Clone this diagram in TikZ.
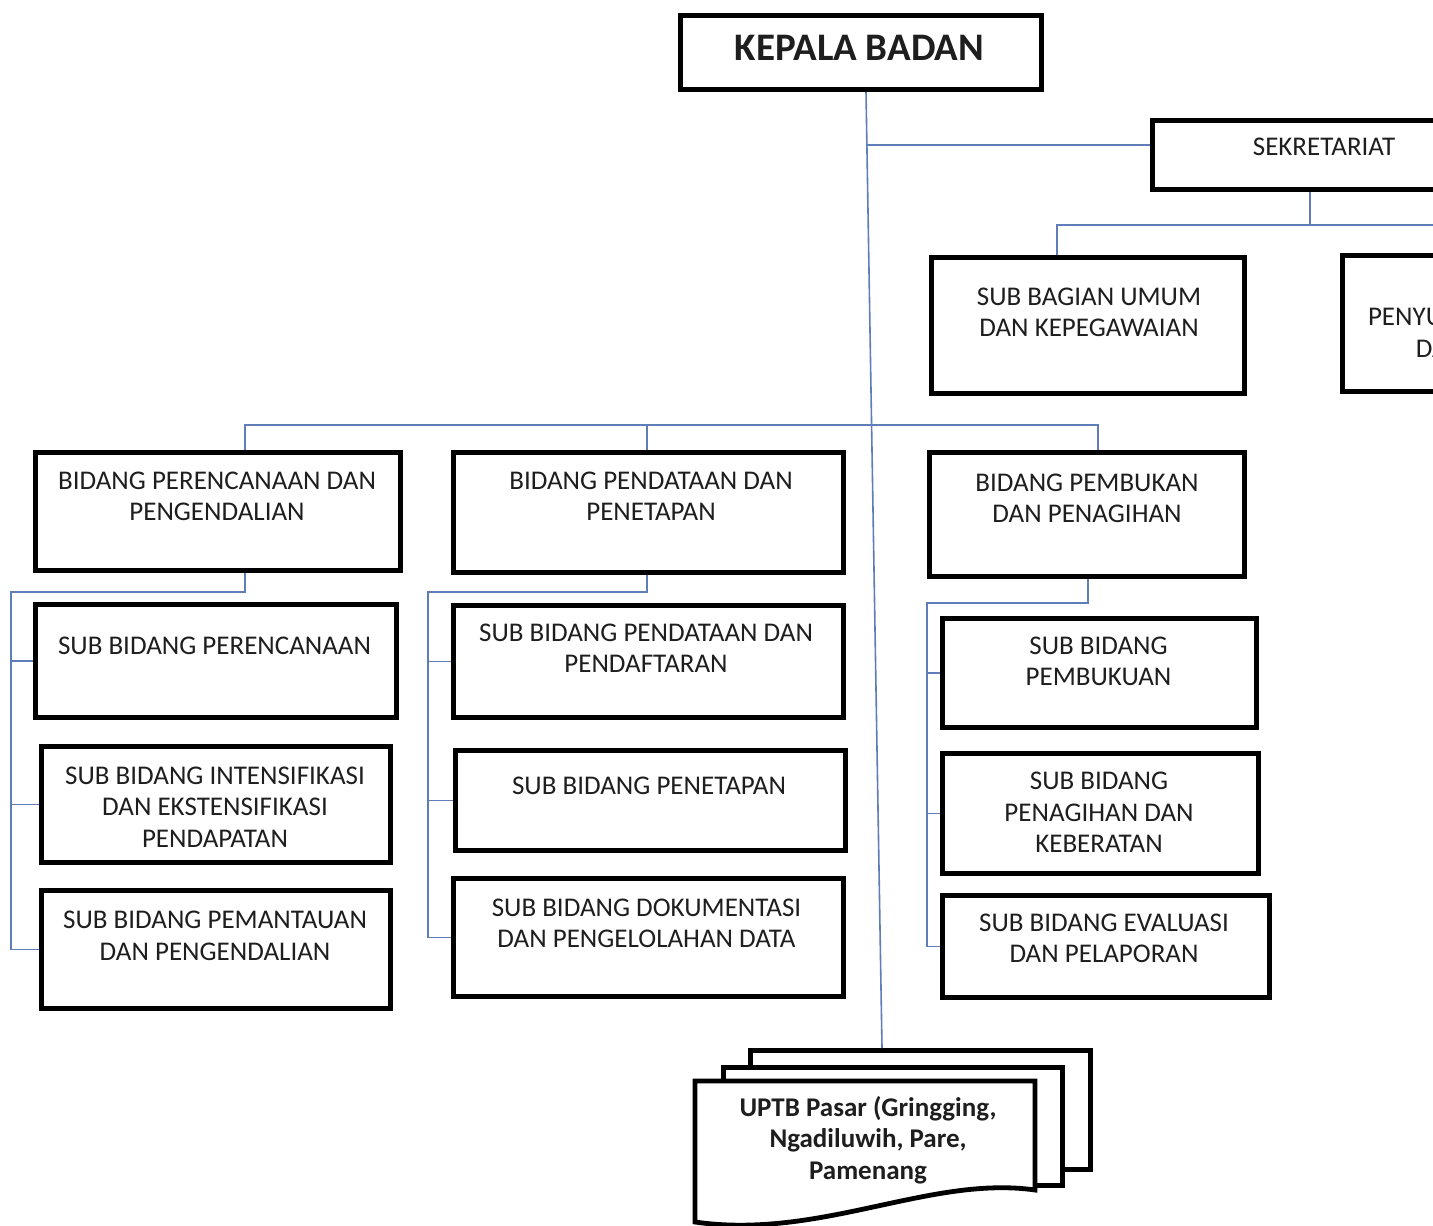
\documentclass[tikz,border=0pt]{standalone}
\usepackage{fontspec}
\setmainfont{Carlito}
\usetikzlibrary{fit}
\definecolor{conncol}{RGB}{95,125,185}
\definecolor{txtcol}{RGB}{30,30,30}
\begin{document}
\begin{tikzpicture}[x=0.5pt,y=-0.5pt,
  box/.style={draw=black, line width=2.4pt, fill=white, inner sep=-1.2pt},
  conn/.style={draw=conncol, line width=0.8pt},
  lbl/.style={font=\fontsize{13.5}{15.75}\selectfont, text=txtcol, align=center, inner sep=0pt},
  lblb/.style={lbl, font=\bfseries\fontsize{13.5}{15.75}\selectfont},
  ]
\useasboundingbox (0,0) rectangle (1433,1225);
\fill[white] (0,0) rectangle (1433,1225);
\clip (0,0) rectangle (1433,1225);

% boxes
\node[box, fit={(678,13)(1044,92)}] (kb) {};
\node[box, fit={(1150,118)(1500,192)}] (sek) {};
\node[box, fit={(929,255)(1247,396)}] (sbu) {};
\node[box, fit={(1340,253)(1674,394)}] (spg) {};
\node[box, fit={(33,450)(403,573)}] (bpr) {};
\node[box, fit={(451,450)(846,575)}] (bpd) {};
\node[box, fit={(927,450)(1247,579)}] (bpk) {};
\node[box, fit={(33,602)(399,720)}] (sp1) {};
\node[box, fit={(39,744)(393,865)}] (sp2) {};
\node[box, fit={(39,888)(393,1011)}] (sp3) {};
\node[box, fit={(451,603)(846,720)}] (sd1) {};
\node[box, fit={(453,748)(848,853)}] (sd2) {};
\node[box, fit={(451,876)(846,999)}] (sd3) {};
\node[box, fit={(940,616)(1259,730)}] (sk1) {};
\node[box, fit={(940,751)(1261,876)}] (sk2) {};
\node[box, fit={(940,893)(1272,1000)}] (sk3) {};

% multi-document
\node[box, fit={(748,1048)(1093,1172)}] (doc3) {};
\node[box, fit={(721,1065)(1065,1188)}] (doc2) {};
\draw[line width=2.4pt, fill=white] (695,1081) -- (1035,1081) -- (1035,1190)
  .. controls (930,1175) and (820,1240) .. (695,1222) -- cycle;
\node[inner sep=0pt, fit={(695,1081)(1035,1222)}] (doc1) {};

% coordinates for buses
\coordinate (m1) at (866,93);
\coordinate (m2) at (882,1047);
\coordinate (s0) at (867,145);
\coordinate (s1) at (1310,225);
\coordinate (s2) at (1057,225);
\coordinate (s3) at (1507,225);
\coordinate (b1) at (245,425);
\coordinate (b2) at (647,425);
\coordinate (b3) at (1098,425);
\coordinate (l1) at (245,592);
\coordinate (l2) at (11,592);
\coordinate (c1) at (647,592);
\coordinate (c2) at (428,592);
\coordinate (r1) at (1088,603);
\coordinate (r2) at (927,603);

% connectors
\draw[conn] (kb.south -| m1) -- (doc3.north -| m2);
\draw[conn] (s0) -- (sek.west |- s0);
\draw[conn] (sek.south -| s1) -- (s1);
\draw[conn] (sbu.north -| s2) -- (s2) -- (s3) -- (spg.north -| s3);
\draw[conn] (bpr.north -| b1) -- (b1) -- (b3) -- (bpk.north -| b3);
\draw[conn] (b2) -- (bpd.north -| b2);
\draw[conn] (bpr.south -| l1) -- (l1) -- (l2) |- (sp3.west);
\draw[conn] (l2 |- sp1.west) -- (sp1.west);
\draw[conn] (l2 |- sp2.west) -- (sp2.west);
\draw[conn] (bpd.south -| c1) -- (c1) -- (c2) |- (sd3.west);
\draw[conn] (c2 |- sd1.west) -- (sd1.west);
\draw[conn] (c2 |- sd2.west) -- (sd2.west);
\draw[conn] (bpk.south -| r1) -- (r1) -- (r2) |- (sk3.west);
\draw[conn] (r2 |- sk1.west) -- (sk1.west);
\draw[conn] (r2 |- sk2.west) -- (sk2.west);

% labels
\node[lblb, font=\bfseries\fontsize{19.5}{22}\selectfont] (tkb) at (859.5,48) {KEPALA BADAN};
\node[lbl] (tsek) at (1324,147) {SEKRETARIAT};
\node[lbl] (tsbu) at (1089,312.5) {SUB BAGIAN UMUM\\DAN KEPEGAWAIAN};
\node[lbl] (tspg) at (1507,317) {SUB BAGIAN\\PENYUSUNAN PROGRAM\\DAN KEUANGAN};
\node[lbl] (tbpr) at (217,496.5) {BIDANG PERENCANAAN DAN\\PENGENDALIAN};
\node[lbl] (tbpd) at (651,496) {BIDANG PENDATAAN DAN\\PENETAPAN};
\node[lbl] (tbpk) at (1087,498.5) {BIDANG PEMBUKAN\\DAN PENAGIHAN};
\node[lbl] (tsp1) at (214.5,646) {SUB BIDANG PERENCANAAN};
\node[lbl] (tsp2) at (215,807) {SUB BIDANG INTENSIFIKASI\\DAN EKSTENSIFIKASI\\PENDAPATAN};
\node[lbl] (tsp3) at (215,936) {SUB BIDANG PEMANTAUAN\\DAN PENGENDALIAN};
\node[lbl] (tsd1) at (646,648) {SUB BIDANG PENDATAAN DAN\\PENDAFTARAN};
\node[lbl] (tsd2) at (649,786) {SUB BIDANG PENETAPAN};
\node[lbl] (tsd3) at (646.5,923.5) {SUB BIDANG DOKUMENTASI\\DAN PENGELOLAHAN DATA};
\node[lbl] (tsk1) at (1098.5,661.5) {SUB BIDANG\\PEMBUKUAN};
\node[lbl] (tsk2) at (1099,812.5) {SUB BIDANG\\PENAGIHAN DAN\\KEBERATAN};
\node[lbl] (tsk3) at (1104,938.5) {SUB BIDANG EVALUASI\\DAN PELAPORAN};
\node[lblb] (tup) at (868,1140) {UPTB Pasar (Gringging,\\Ngadiluwih, Pare,\\Pamenang};
\end{tikzpicture}
\end{document}
